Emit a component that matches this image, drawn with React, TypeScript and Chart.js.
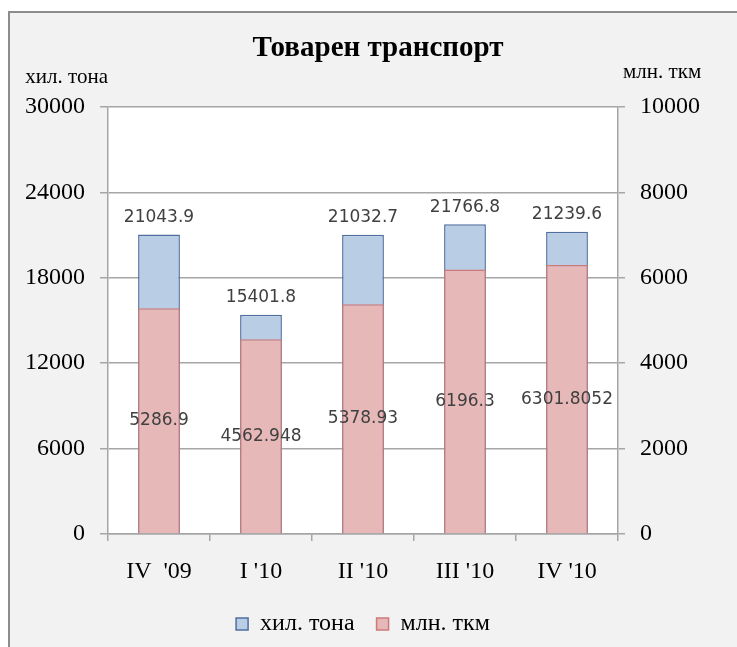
import React, { useEffect, useRef } from "react";
import { Chart, registerables } from "chart.js";

Chart.register(...registerables);

const chartTitle = "Товарен транспорт";
const categories = ["IV  '09", "I '10", "II '10", "III '10", "IV '10"];
const tonsLabel = "хил. тона";
const tkmLabel = "млн. ткм";
const tonsValues = [21043.9, 15401.8, 21032.7, 21766.8, 21239.6];
const tkmValues = [5286.9, 4562.948, 5378.93, 6196.3, 6301.8052];
const leftTicks = [0, 6000, 12000, 18000, 24000, 30000];
const rightTicks = [0, 2000, 4000, 6000, 8000, 10000];

const SERIF = "'Liberation Serif', 'Times New Roman', serif";
const SANS = "'DejaVu Sans', Verdana, sans-serif";
const GRID = "#a6a6a6";

const plotBg = {
  id: "plotBg",
  beforeDraw(chart: any) {
    const { ctx, chartArea } = chart;
    ctx.save();
    ctx.fillStyle = "#ffffff";
    ctx.fillRect(chartArea.left, chartArea.top, chartArea.right - chartArea.left, chartArea.bottom - chartArea.top);
    ctx.restore();
  },
};

const axisTitles = {
  id: "axisTitles",
  afterDraw(chart: any) {
    const { ctx, chartArea } = chart;
    ctx.save();
    ctx.fillStyle = "#000";
    ctx.font = `21px ${SERIF}`;
    ctx.textBaseline = "middle";
    ctx.textAlign = "right";
    ctx.fillText(tonsLabel, chartArea.left, chartArea.top - 30);
    ctx.textAlign = "left";
    ctx.fillText(tkmLabel, chartArea.right + 5, chartArea.top - 35);
    ctx.restore();
  },
};

const valueLabels = {
  id: "valueLabels",
  afterDatasetsDraw(chart: any) {
    const { ctx } = chart;
    ctx.save();
    ctx.font = `17px ${SANS}`;
    ctx.fillStyle = "#404040";
    ctx.textAlign = "center";
    ctx.textBaseline = "middle";
    chart.data.datasets.forEach((ds: any, i: number) => {
      const meta = chart.getDatasetMeta(i);
      meta.data.forEach((bar: any, j: number) => {
        const p = bar.getProps(["x", "y", "base"], true);
        const text = String(ds.data[j]);
        if (ds.label === tonsLabel) {
          ctx.fillText(text, p.x, p.y - 17);
        } else {
          ctx.fillText(text, p.x, (p.y + p.base) / 2);
        }
      });
    });
    ctx.restore();
  },
};

const plainTick = (v: any) => String(v);

export default function App() {
  const ref = useRef<HTMLCanvasElement | null>(null);

  useEffect(() => {
    if (!ref.current) return;
    const chart = new Chart(ref.current, {
      type: "bar",
      data: {
        labels: categories,
        datasets: [
          {
            label: tkmLabel,
            data: tkmValues,
            yAxisID: "y1",
            backgroundColor: "#e6b9b8",
            borderColor: "#cc7b79",
            borderWidth: 1.5,
          },
          {
            label: tonsLabel,
            data: tonsValues,
            yAxisID: "y",
            backgroundColor: "#b9cde5",
            borderColor: "#4f6fa0",
            borderWidth: 1.5,
          },
        ],
      },
      options: {
        responsive: false,
        animation: false,
        devicePixelRatio: 1,
        layout: { padding: { left: 19, right: 0, top: 0, bottom: 1 } },
        datasets: {
          bar: {
            grouped: false,
            categoryPercentage: 1,
            barPercentage: 0.41,
          },
        },
        scales: {
          x: {
            grid: { drawOnChartArea: false, drawTicks: true, tickLength: 7, color: GRID, lineWidth: 1.5, offset: true },
            border: { color: GRID, width: 1.5 },
            ticks: { font: { family: SERIF, size: 24 }, color: "#000", padding: 16, maxRotation: 0 },
            afterFit(s: any) {
              s.height = 56;
            },
          },
          y: {
            position: "left",
            min: 0,
            max: 30000,
            afterBuildTicks(s: any) {
              s.ticks = leftTicks.map((v) => ({ value: v }));
            },
            grid: { color: GRID, lineWidth: 1.5, tickLength: 8 },
            border: { color: GRID, width: 1.5 },
            ticks: { font: { family: SERIF, size: 24 }, color: "#000", padding: 15, callback: plainTick },
            afterFit(s: any) {
              s.width = 89;
            },
          },
          y1: {
            position: "right",
            min: 0,
            max: 10000,
            afterBuildTicks(s: any) {
              s.ticks = rightTicks.map((v) => ({ value: v }));
            },
            grid: { drawOnChartArea: false, color: GRID, lineWidth: 1.5, tickLength: 7 },
            border: { color: GRID, width: 1.5 },
            ticks: { font: { family: SERIF, size: 24 }, color: "#000", padding: 15, callback: plainTick },
            afterFit(s: any) {
              s.width = 119;
            },
          },
        },
        plugins: {
          title: {
            display: true,
            text: chartTitle,
            color: "#000",
            font: { family: SERIF, size: 29, weight: "bold", lineHeight: 1.2 },
            padding: { top: 31, bottom: 41.2 },
          },
          legend: {
            position: "bottom",
            fullSize: false,
            reverse: true,
            labels: {
              boxWidth: 12,
              boxHeight: 12,
              padding: 22,
              color: "#000",
              font: { family: SERIF, size: 24 },
            },
          },
          tooltip: { enabled: false },
        },
      },
      plugins: [plotBg, axisTitles, valueLabels],
    } as any);
    return () => chart.destroy();
  }, []);

  return (
    <div style={{ position: "absolute", left: 0, top: 0, width: 737, height: 647, background: "#fff", overflow: "hidden" }}>
      <div
        style={{
          position: "absolute",
          left: 8,
          top: 11,
          right: -10,
          bottom: -10,
          background: "#f2f2f2",
          borderLeft: "2px solid #8c8c8c",
          borderTop: "2px solid #8c8c8c",
        }}
      />
      <canvas ref={ref} width={737} height={647} style={{ position: "absolute", left: 0, top: 0, width: 737, height: 647 }} />
    </div>
  );
}
